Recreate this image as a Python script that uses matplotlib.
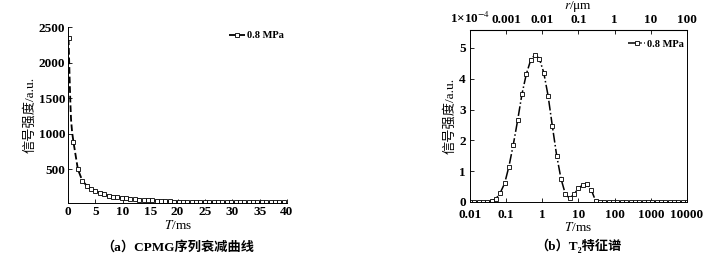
import matplotlib.pyplot as plt
import matplotlib.ticker as mticker

plt.rcParams['font.family'] = ['Liberation Serif', 'Noto Sans CJK SC', 'DejaVu Sans']
plt.rcParams['mathtext.fontset'] = 'stix'

# (a) CPMG decay, T in ms
t_cpmg = [0.1, 0.25, 0.4, 0.55, 0.75,
          1.0, 1.8, 2.6, 3.4, 4.2, 5.0, 5.8, 6.6, 7.4, 8.2, 9.0, 9.8, 10.6, 11.4,
          12.2, 13.0, 13.8, 14.6, 15.4, 16.2, 17.0, 17.8, 18.6, 19.4, 20.2, 21.0,
          21.8, 22.6, 23.4, 24.2, 25.0, 25.8, 26.6, 27.4, 28.2, 29.0, 29.8, 30.6,
          31.4, 32.2, 33.0, 33.8, 34.6, 35.4, 36.2, 37.0, 37.8, 38.6, 39.4]
amp_cpmg = [2340, 1900, 1500, 1200, 1020,
            880, 500, 340, 270, 225, 195, 168, 145, 126, 113, 104, 97, 91, 86,
            80, 74, 70, 65, 62, 57, 52, 50, 47, 45, 44, 42,
            41, 43, 40, 42, 41, 38, 37, 36, 38, 35, 37, 34,
            33, 35, 34, 36, 33, 32, 34, 33, 35, 36, 38]
mark_cpmg = [0] + list(range(5, len(t_cpmg)))

# (b) T2 spectrum
t2 = [0.01, 0.0132, 0.0174, 0.0229, 0.0302, 0.0398, 0.0525, 0.0692, 0.0912,
      0.120, 0.158, 0.209, 0.275, 0.363, 0.479, 0.631, 0.832, 1.10, 1.45,
      1.91, 2.51, 3.31, 4.37, 5.75, 7.59, 10.0, 13.2, 17.4, 22.9, 30.2, 39.8,
      52.5, 69.2, 91.2, 120, 158, 209, 275, 363, 479, 631, 832, 1100, 1450,
      1910, 2510, 3310, 4370, 5750, 7590, 10000]
amp_t2 = [0, 0, 0, 0, 0.01, 0.03, 0.1, 0.3, 0.6,
          1.15, 1.85, 2.65, 3.5, 4.15, 4.6, 4.78, 4.65, 4.2, 3.45,
          2.45, 1.5, 0.75, 0.25, 0.12, 0.25, 0.45, 0.55, 0.57, 0.38, 0.02, 0,
          0, 0, 0, 0, 0, 0, 0, 0, 0, 0, 0, 0, 0,
          0, 0, 0, 0, 0, 0, 0]
r_ticks = [1e-4, 1e-3, 1e-2, 0.1, 1, 10, 100]
r_labels = ['1×10$^{-4}$', '0.001', '0.01', '0.1', '1', '10', '100']

fig = plt.figure(figsize=(7.13, 2.58), dpi=100)
ax1 = fig.add_axes([0.0954, 0.2132, 0.3071, 0.6821])
ax2 = fig.add_axes([0.659, 0.2171, 0.3045, 0.6666])

tick_font = dict(family='Liberation Serif', weight='bold', size=9.5)
lab_font = ['Liberation Serif', 'Noto Sans CJK SC', 'DejaVu Sans']

ax1.plot(t_cpmg, amp_cpmg, '--', color='black', lw=1.3, marker='s', ms=3.5,
         mfc='white', mec='black', mew=0.6, markevery=mark_cpmg, label='0.8 MPa')
ax1.set_xlim(0, 40)
ax1.set_ylim(25, 2500)
ax1.set_xticks([0, 5, 10, 15, 20, 25, 30, 35, 40])
ax1.set_yticks([500, 1000, 1500, 2000, 2500])
ax1.spines['top'].set_visible(False)
ax1.spines['right'].set_visible(False)
ax1.tick_params(direction='in', length=3, width=0.6, pad=2)
ax1.set_xlabel('$T$/ms', fontsize=9.5, family=lab_font, labelpad=1)
ax1.set_ylabel('信号强度/a.u.', fontsize=9.5, family=lab_font, labelpad=2)
ax1.legend(loc='upper right', frameon=False, handlelength=1.6, handletextpad=0.2,
           prop=dict(family='Liberation Serif', weight='bold', size=7.5),
           bbox_to_anchor=(1.03, 1.03))

ax2.plot(t2, amp_t2, '-.', color='black', lw=1.1, marker='s', ms=3.5,
         mfc='white', mec='black', mew=0.6, label='0.8 MPa')
ax2.set_xscale('log')
ax2.set_xlim(0.01, 10000)
ax2.set_ylim(0, 5.58)
ax2.set_xticks([0.01, 0.1, 1, 10, 100, 1000, 10000])
ax2.set_xticklabels(['0.01', '0.1', '1', '10', '100', '1000', '10000'])
ax2.xaxis.set_minor_locator(mticker.NullLocator())
ax2.set_yticks([0, 1, 2, 3, 4, 5])
ax2.tick_params(direction='in', length=3, width=0.6, pad=3)
ax2.tick_params(axis='x', pad=5)
ax2.set_xlabel('$T$/ms', fontsize=9.5, family=lab_font, labelpad=0)
ax2.set_ylabel('信号强度/a.u.', fontsize=9.5, family=lab_font, labelpad=2)
ax2.legend(loc='upper right', frameon=False, handlelength=1.6, handletextpad=0.2,
           prop=dict(family='Liberation Serif', weight='bold', size=7.5),
           bbox_to_anchor=(1.03, 1.0))

top = ax2.secondary_xaxis('top', functions=(lambda x: x * 0.01, lambda x: x * 100))
top.set_xticks(r_ticks)
top.set_xticklabels(r_labels)
top.xaxis.set_minor_locator(mticker.NullLocator())
top.tick_params(direction='in', length=3, width=0.6, pad=3)
top.set_xlabel('$r$/μm', fontsize=9.5, family=lab_font, labelpad=1)

for ax in (ax1, ax2, top):
    for lbl in ax.get_xticklabels() + ax.get_yticklabels():
        lbl.set_fontproperties(tick_font)
for ax in (ax1, ax2):
    for s in ax.spines.values():
        s.set_linewidth(0.7)

fig.text(0.2489, 0.03, '（a）CPMG序列衰减曲线', ha='center', fontsize=9.5,
         family=lab_font, weight='bold')
fig.text(0.811, 0.03, '（b）T₂特征谱', ha='center', fontsize=9.5,
         family=lab_font, weight='bold')

fig.savefig('out.png', dpi=100)
